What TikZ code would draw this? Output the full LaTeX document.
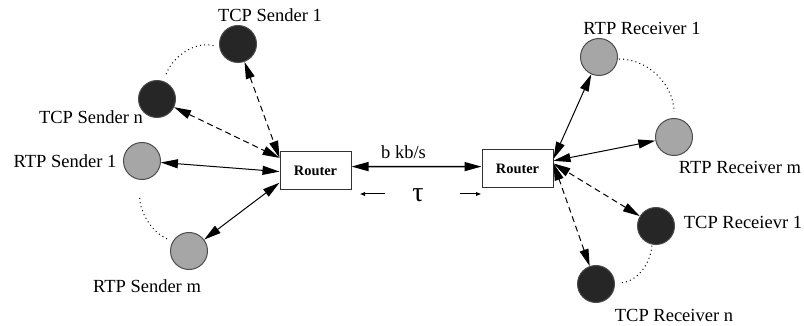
\documentclass[tikz,border=0pt]{standalone}
\usepackage{fontspec}
\setmainfont{Liberation Serif}
\usetikzlibrary{arrows.meta}

\begin{document}
\begin{tikzpicture}[x=0.5pt, y=0.5pt, font=\fontsize{9.25}{11}\selectfont,
    tcp/.style={circle, draw=black!70, line width=0.5pt, fill=black!85, minimum size=18.5pt, inner sep=0pt},
    rtp/.style={circle, draw=black!70, line width=0.5pt, fill=black!35, minimum size=18.5pt, inner sep=0pt},
    router/.style={draw=black!80, line width=0.5pt, minimum width=35.5pt, minimum height=19pt, inner sep=0pt,
                   font=\fontsize{7.2}{8}\selectfont\bfseries},
    link/.style={{Triangle[length=8.5pt,width=4.5pt]}-{Triangle[length=8.5pt,width=4.5pt]}, line width=0.5pt},
    tcplink/.style={link, dash pattern=on 3pt off 2pt},
    ring/.style={line width=0.5pt, dash pattern=on 0.5pt off 1.6pt},
    tick/.style={-{Triangle[length=2.5pt,width=1.8pt]}, line width=0.5pt}]
  \path[use as bounding box] (0, 0) rectangle (804, -326);

  % routers
  \node[router] (R_L) at (315.5, -171) {Router};
  \node[router] (R_R) at (517.5, -168.5) {Router};

  % senders
  \node[tcp] (TS_1) at (238, -44) {};
  \node[tcp] (TS_n) at (157, -99) {};
  \node[rtp] (RS_1) at (142, -161) {};
  \node[rtp] (RS_m) at (189, -251) {};
  \node (TS_1_l) at (270, -15) {TCP Sender 1};
  \node (TS_n_l) at (91, -117) {TCP Sender n};
  \node (RS_1_l) at (65, -161) {RTP Sender 1};
  \node (RS_m_l) at (147, -286) {RTP Sender m};

  % receivers
  \node[rtp] (RR_1) at (599, -57) {};
  \node[rtp] (RR_m) at (674, -137) {};
  \node[tcp] (TR_1) at (656, -226) {};
  \node[tcp] (TR_n) at (596, -284) {};
  \node (RR_1_l) at (642, -28) {RTP Receiver 1};
  \node (RR_m_l) at (740, -167) {RTP Receiver m};
  \node (TR_1_l) at (743, -222) {TCP Receievr 1};
  \node (TR_n_l) at (674, -315) {TCP Receiver n};

  % dotted groups
  \draw[ring, shorten <=3pt, shorten >=3.5pt] (TS_1.190) to[out=165, in=70] (TS_n.70);
  \draw[ring, shorten <=9pt, shorten >=3pt] (RS_1.265) to[out=268, in=155] (RS_m.150);
  \draw[ring, shorten <=0.5pt, shorten >=3pt] (RR_1.354) to[out=0, in=90] (RR_m.90);
  \draw[ring, shorten <=0.5pt, shorten >=3.5pt] (TR_1.258) to[out=265, in=5] (TR_n.2);

  % access links
  \draw[tcplink] (TS_1) -- (R_L.160);
  \draw[tcplink] (TS_n) -- (R_L.160);
  \draw[link] (RS_1) -- (R_L.181);
  \draw[link] (RS_m) -- (R_L.198);
  \draw[link] (RR_1) -- (R_R.15);
  \draw[link] (RR_m) -- (R_R.12);
  \draw[tcplink] (TR_1) -- (R_R.8);
  \draw[tcplink] (TR_n) -- (R_R.8);

  % bottleneck
  \draw[link, line width=0.75pt] (R_L.7) -- node[above, pos=0.4] (bw) {b kb/s} (R_R.177);
  \node[font=\fontsize{14}{16}\selectfont] (tau) at (418, -195) {τ};
  \coordinate (tau_a) at (385, -194);
  \coordinate (tau_b) at (360, -194);
  \coordinate (tau_c) at (460, -194);
  \coordinate (tau_d) at (481, -194);
  \draw[tick] (tau_a) -- (tau_b);
  \draw[tick] (tau_c) -- (tau_d);
\end{tikzpicture}
\end{document}
